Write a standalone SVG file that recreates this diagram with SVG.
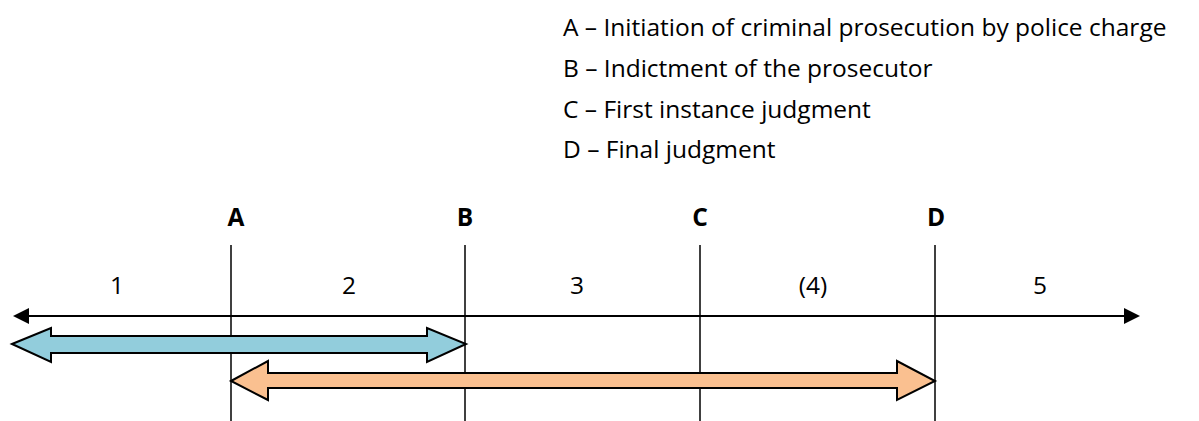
<svg xmlns="http://www.w3.org/2000/svg" width="1199" height="421" viewBox="0 0 1199 421">
<style>
.t{font-family:"Open Sans","Liberation Sans",sans-serif;font-size:24.5px;fill:#000}
.b{font-weight:bold;text-anchor:middle}
.n{text-anchor:middle}
.v{stroke:#000;stroke-width:1.5}
.ar{stroke:#000;stroke-width:2;stroke-linejoin:miter}
</style>
<defs>
<marker id="ah" viewBox="0 0 16 16" refX="0" refY="8" markerWidth="16" markerHeight="16" markerUnits="userSpaceOnUse" orient="auto-start-reverse">
<path d="M0,0 L16,8 L0,16 Z" fill="#000"/>
</marker>
</defs>
<g id="legend">
<text class="t" x="563" y="36">A – Initiation of criminal prosecution by police charge</text>
<text class="t" x="563" y="77">B – Indictment of the prosecutor</text>
<text class="t" x="563" y="118">C – First instance judgment</text>
<text class="t" x="563" y="158">D – Final judgment</text>
</g>
<g id="markers">
<line class="v" x1="231" y1="245" x2="231" y2="421"/>
<line class="v" x1="465" y1="245" x2="465" y2="421"/>
<line class="v" x1="700" y1="245" x2="700" y2="421"/>
<line class="v" x1="935" y1="245" x2="935" y2="421"/>
<text class="t b" x="236" y="226">A</text>
<text class="t b" x="465" y="226">B</text>
<text class="t b" x="700" y="226">C</text>
<text class="t b" x="936" y="226">D</text>
</g>
<g id="periods">
<text class="t n" x="117" y="294">1</text>
<text class="t n" x="349" y="294">2</text>
<text class="t n" x="577" y="294">3</text>
<text class="t n" x="813" y="294">(4)</text>
<text class="t n" x="1040" y="294">5</text>
</g>
<g id="connectors">
<line x1="29" y1="316" x2="1124" y2="316" stroke="#000" stroke-width="2" marker-start="url(#ah)" marker-end="url(#ah)"/>
<path class="ar" fill="#92CDDC" d="M12,344 L51,328 L51,336 L427,336 L427,328 L466,344 L427,362 L427,353 L51,353 L51,362 Z"/>
<path class="ar" fill="#FAC090" d="M231,381 L268,361 L268,373 L897,373 L897,361 L935,381 L897,400 L897,388 L268,388 L268,400 Z"/>
</g>
</svg>
